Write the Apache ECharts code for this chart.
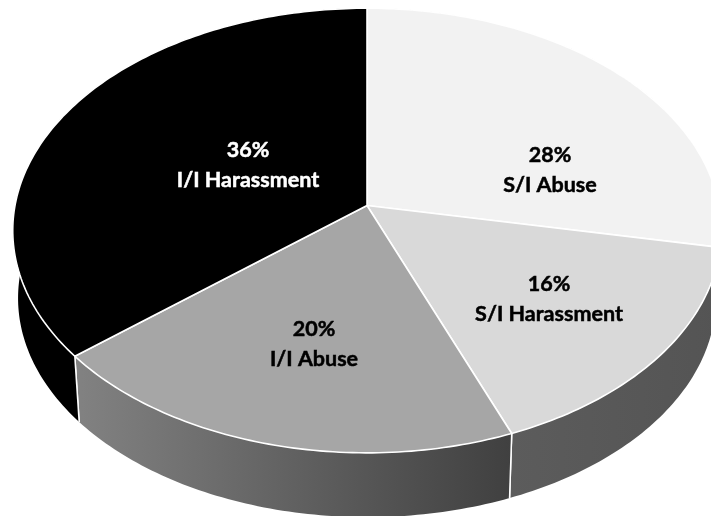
<!DOCTYPE html>
<html><head><meta charset="utf-8">
<style>html,body{margin:0;padding:0;background:#fff;overflow:hidden}#c{width:711px;height:516px}</style>
<script src="https://cdn.jsdelivr.net/npm/echarts@6/dist/echarts.min.js"></script>
</head><body><div id="c"></div>
<script>
const categories = ['S/I Abuse', 'S/I Harassment', 'I/I Abuse', 'I/I Harassment'];
const shares = [28, 16, 20, 36];

const topColors = ['#f2f2f2', '#d9d9d9', '#a6a6a6', '#000000'];
const wallStops = [['#5a5a5a', '#5a5a5a'], ['#5c5c5c', '#545454'], ['#828282', '#404040'], ['#000000', '#000000']];
const labelColors = ['#000', '#000', '#000', '#fff'];
const labelCentres = [[550, 170], [549, 299], [314, 344], [248, 165]];

// Perspective disc model
const G = { cx: 367, cy: 205.5, A: 352, B: 219.5, k: 0.1126, depth: 68, shrink: 0.985 };
const total = shares.reduce((a, b) => a + b, 0);
const starts = [];
shares.reduce((acc, v, i) => { starts[i] = acc; return acc + v; }, 0);
const rad = v => v / total * 2 * Math.PI;

function rim(theta, lower) {
  const X = Math.sin(theta), Y = -Math.cos(theta), w = 1 - G.k * Y;
  const s = lower ? G.shrink : 1;
  return [G.cx + s * G.A * X / w, G.cy + s * G.B * Y / w + (lower ? G.depth : 0)];
}
function arc(a, b, lower) {
  const pts = [], n = Math.max(4, Math.ceil((b - a) * 60));
  for (let i = 0; i <= n; i++) pts.push(rim(a + (b - a) * i / n, lower));
  return pts;
}

function renderWall(params, api) {
  const i = params.dataIndex, a = rad(api.value(1)), b = a + rad(api.value(0));
  const upper = arc(a, b, false), lower = arc(a, b, true).reverse();
  const xs = upper.concat(lower).map(p => p[0]);
  const stops = wallStops[i];
  return {
    type: 'group',
    children: [
      {
        type: 'polygon',
        shape: { points: upper.concat(lower) },
        style: {
          fill: new echarts.graphic.LinearGradient(Math.min(...xs), 0, Math.max(...xs), 0,
            [{ offset: 0, color: stops[0] }, { offset: 1, color: stops[1] }], true)
        }
      },
      { type: 'line', shape: { x1: rim(a)[0], y1: rim(a)[1], x2: rim(a, true)[0], y2: rim(a, true)[1] },
        style: { stroke: '#fff', lineWidth: 1.5 } },
      { type: 'line', shape: { x1: rim(b)[0], y1: rim(b)[1], x2: rim(b, true)[0], y2: rim(b, true)[1] },
        style: { stroke: '#fff', lineWidth: 1.5 } }
    ]
  };
}

function renderTop(params, api) {
  const i = params.dataIndex, a = rad(api.value(1)), b = a + rad(api.value(0));
  const pts = [[G.cx, G.cy]].concat(arc(a, b, false));
  return {
    type: 'polygon',
    shape: { points: pts },
    style: { fill: topColors[i], stroke: '#fff', lineWidth: 1.6, lineJoin: 'round' }
  };
}

function renderLabel(params, api) {
  const i = params.dataIndex;
  const c = labelCentres[i];
  return {
    type: 'text',
    x: c[0], y: c[1],
    style: {
      text: Math.round(api.value(0)) + '%\n' + categories[i],
      font: 'bold 21.5px Lato',
      lineHeight: 30,
      align: 'center', verticalAlign: 'middle',
      fill: labelColors[i],
      stroke: labelColors[i], lineWidth: 0.5
    }
  };
}

const data = shares.map((v, i) => [v, starts[i]]);
const chart = echarts.init(document.getElementById('c'), null, { renderer: 'canvas', width: 711, height: 516 });
chart.setOption({
  animation: false,
  backgroundColor: '#fff',
  series: [
    { type: 'custom', coordinateSystem: 'none', renderItem: renderWall, data, z: 1, silent: true },
    { type: 'custom', coordinateSystem: 'none', renderItem: renderTop, data, z: 2, silent: true },
    { type: 'custom', coordinateSystem: 'none', renderItem: renderLabel, data, z: 3, silent: true }
  ]
});
</script></body></html>
